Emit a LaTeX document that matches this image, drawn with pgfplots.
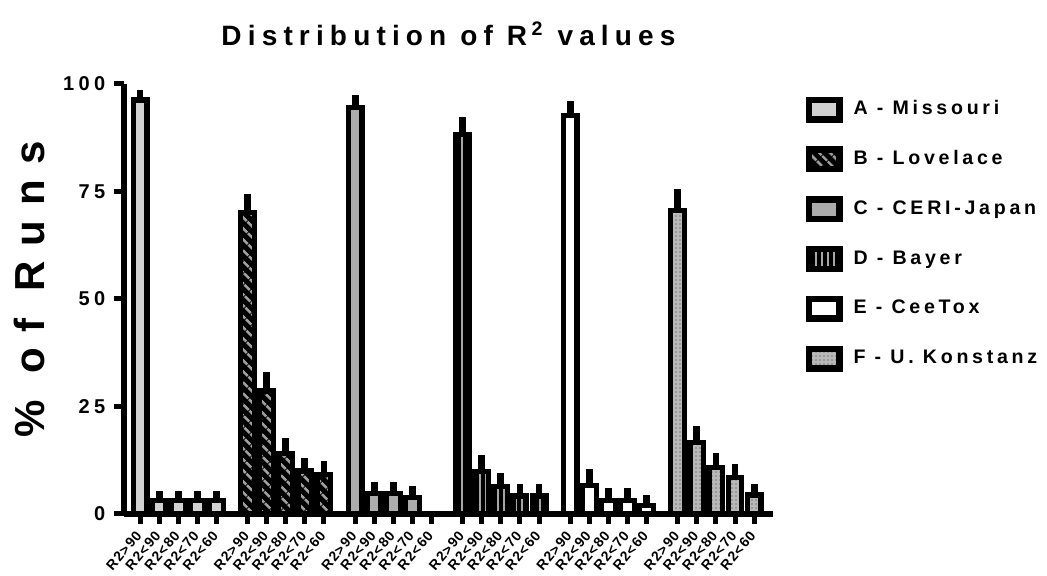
\documentclass[border=0pt]{standalone}
\usepackage{pgfplots}
\pgfplotsset{compat=1.18}
\usetikzlibrary{patterns.meta}
\usepackage{fontspec}
\setmainfont{Liberation Sans}
\newfontfamily\titlefont[LetterSpace=22]{Liberation Sans}
\newfontfamily\labelfont[LetterSpace=36]{Liberation Sans}
\newfontfamily\legfont[LetterSpace=19]{Liberation Sans}
\newfontfamily\tickfont[LetterSpace=22]{Liberation Sans}
\newfontfamily\xtickfont[LetterSpace=8]{Liberation Sans}

\begin{document}
\begin{tikzpicture}
\useasboundingbox (-62pt,-31pt) rectangle (461.5pt,257pt);
\begin{axis}[
  at={(0pt,0pt)}, anchor=south west,
  scale only axis, width=324.5pt, height=215pt,
  ybar, bar shift=0pt, bar width=0.72,
  xmin=-0.84, xmax=33.14, ymin=0, ymax=100,
  clip=false,
  axis lines=left,
  axis line style={-, line width=3pt},
  tick align=outside,
  major tick length=4.8pt,
  tick style={line width=2.5pt, black},
  ytick={0,25,50,75,100},
  xtick={0,1,2,3,4,5.63,6.63,7.63,8.63,9.63,11.26,12.26,13.26,14.26,15.26,
         16.89,17.89,18.89,19.89,20.89,22.52,23.52,24.52,25.52,26.52,
         28.15,29.15,30.15,31.15,32.15},
  xticklabels={R2>90,R2<90,R2<80,R2<70,R2<60,R2>90,R2<90,R2<80,R2<70,R2<60,
               R2>90,R2<90,R2<80,R2<70,R2<60,R2>90,R2<90,R2<80,R2<70,R2<60,
               R2>90,R2<90,R2<80,R2<70,R2<60,R2>90,R2<90,R2<80,R2<70,R2<60},
  /pgf/number format/assume math mode=true,
  yticklabel style={font=\fontsize{10}{12}\selectfont\tickfont\bfseries,
                    xshift=-1pt},
  xticklabel style={font=\fontsize{7}{8}\selectfont\xtickfont\bfseries,
                    rotate=50, anchor=east, yshift=-2.5pt, xshift=-0.5pt},
  title={Distribution of R\,\textsuperscript{2} values},
  title style={at={(0.5,1)}, anchor=center, yshift=19pt,
               font=\fontsize{14}{16}\selectfont\titlefont\bfseries},
  ylabel={\% of Runs},
  ylabel style={at={(axis description cs:-0.146,0.522)}, anchor=center,
                font=\fontsize{21}{24}\selectfont\labelfont\bfseries},
  every axis plot post/.append style={
    draw=black, line width=2.6pt,
    legend image code/.code={
      \draw[##1, line width=3.2pt] (0pt,-4.9pt) rectangle (15.3pt,4.9pt);}},
  error bars/y dir=plus,
  error bars/y explicit,
  error bars/error mark=none,
  error bars/error bar style={line width=3.4pt, black},
  legend style={at={(1.0496,0.9716)}, anchor=north west, draw=none,
                fill=none, inner sep=0pt, row sep=11.9pt, column sep=5.5pt,
                nodes={inner sep=0pt, text height=7pt, text depth=2pt},
                font=\fontsize{9.8}{11}\selectfont\legfont\bfseries},
  legend cell align=left,
]
% A - Missouri
\addplot[fill=gray!35] coordinates {
  (0,96.3) +- (0,2.3) (1,3.1) +- (0,2.2) (2,3.1) +- (0,2.2)
  (3,3.1) +- (0,2.2) (4,3.1) +- (0,2.2)};
\addlegendentry{A - Missouri}
% B - Lovelace
\addplot[preaction={fill=black}, pattern={Lines[angle=-45,distance=4pt,line width=1.4pt]},
  pattern color=gray!75] coordinates {
  (5.63,70.1) +- (0,4.3) (6.63,28.6) +- (0,4.4) (7.63,14.1) +- (0,3.5)
  (8.63,10.0) +- (0,3.0) (9.63,9.2) +- (0,3.1)};
\addlegendentry{B - Lovelace}
% C - CERI-Japan
\addplot[fill=gray!65] coordinates {
  (11.26,94.5) +- (0,2.9) (12.26,4.7) +- (0,2.8) (13.26,4.7) +- (0,2.8)
  (14.26,3.8) +- (0,2.7)};
\addlegendentry{C - CERI-Japan}
% D - Bayer
\addplot[preaction={fill=black}, pattern={Lines[angle=90,distance=3pt,line width=1.3pt]},
  pattern color=gray!70] coordinates {
  (16.89,88.3) +- (0,4.1) (17.89,9.8) +- (0,3.9) (18.89,6.4) +- (0,3.2)
  (19.89,4.2) +- (0,2.8) (20.89,4.2) +- (0,2.8)};
\addlegendentry{D - Bayer}
% E - CeeTox
\addplot[fill=white] coordinates {
  (22.52,92.6) +- (0,3.5) (23.52,6.7) +- (0,3.7) (24.52,3.2) +- (0,2.8)
  (25.52,3.2) +- (0,2.8) (26.52,1.9) +- (0,2.5)};
\addlegendentry{E - CeeTox}
% F - U. Konstanz
\addplot[preaction={fill=gray!55}, pattern={Dots[distance=2pt,radius=0.35pt]},
  pattern color=black!80] coordinates {
  (28.15,70.5) +- (0,5.0) (29.15,16.6) +- (0,3.9) (30.15,10.8) +- (0,3.5)
  (31.15,8.5) +- (0,3.1) (32.15,4.4) +- (0,2.6)};
\addlegendentry{F - U. Konstanz}
\end{axis}
\end{tikzpicture}
\end{document}
